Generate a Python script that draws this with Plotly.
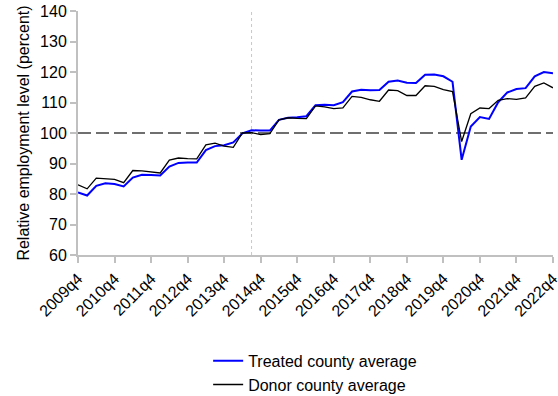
import plotly.graph_objects as go

# Quarterly periods, 2009q4 through 2022q4
quarters = [f"{y}q{q}" for y in range(2009, 2023) for q in range(1, 5)]
quarters = quarters[quarters.index("2009q4"):quarters.index("2022q4") + 1]

# Relative employment level (percent), indexed to 100 at treatment
treated = [80.5, 79.5, 82.7, 83.5, 83.3, 82.5, 85.4, 86.3, 86.2, 86.1,
           89.0, 90.2, 90.3, 90.3, 94.4, 95.7, 96.0, 96.9, 99.9, 100.9,
           100.8, 100.8, 104.3, 105.0, 105.2, 105.5, 109.1, 109.3, 109.1, 110.1,
           113.6, 114.2, 114.0, 114.1, 116.8, 117.2, 116.5, 116.4, 119.1, 119.2,
           118.6, 116.8, 91.2, 102.1, 105.2, 104.6, 110.1, 113.3, 114.4, 114.7,
           118.6, 120.0, 119.6]
donor = [83.0, 81.7, 85.2, 85.1, 84.8, 83.7, 87.7, 87.6, 87.2, 86.9,
         91.1, 91.8, 91.6, 91.5, 96.1, 96.7, 95.7, 95.3, 100.0, 100.1,
         99.5, 99.8, 104.3, 105.0, 104.8, 104.7, 108.9, 108.6, 108.0, 108.2,
         112.0, 111.7, 110.9, 110.4, 114.1, 113.9, 112.3, 112.3, 115.5, 115.3,
         114.2, 113.6, 97.2, 106.3, 108.2, 108.0, 110.7, 111.3, 111.0, 111.5,
         115.3, 116.4, 114.8]

tick_labels = [q for q in quarters if q.endswith("q4")]
treatment_quarter = "2014q3"

x = list(range(len(quarters)))
tick_pos = [quarters.index(t) for t in tick_labels]

fig = go.Figure()
fig.add_trace(go.Scatter(x=x, y=treated, mode="lines", name="Treated county average",
                         line=dict(color="#0000ff", width=2)))
fig.add_trace(go.Scatter(x=x, y=donor, mode="lines", name="Donor county average",
                         line=dict(color="#000000", width=1.3)))

# Reference level and treatment date
fig.add_shape(type="line", xref="paper", x0=0, x1=1, yref="y", y0=100, y1=100,
              line=dict(color="#404040", width=1.5, dash="13px,5px"), layer="below")
tq = quarters.index(treatment_quarter)
fig.add_shape(type="line", xref="x", x0=tq, x1=tq, yref="paper", y0=0, y1=1,
              line=dict(color="#c8c8c8", width=1, dash="dot"), layer="below")

axis_font = dict(family="Liberation Sans, Arial, sans-serif", size=16, color="#000")
fig.update_layout(
    width=558, height=396,
    margin=dict(l=78, r=5, t=11, b=141, autoexpand=False),
    plot_bgcolor="white", paper_bgcolor="white",
    font=axis_font,
    showlegend=True,
    legend=dict(x=0.274, y=-0.364, xanchor="left", yanchor="top",
                bgcolor="rgba(0,0,0,0)", font=axis_font),
    xaxis=dict(range=[0, len(quarters) - 1], tickmode="array", tickvals=tick_pos,
               ticktext=tick_labels, tickangle=-45, showgrid=False, zeroline=False,
               showline=True, linecolor="#c0c0c0", linewidth=2, automargin=False,
               tickfont=axis_font, ticklabeloverflow="allow",
               ticks="outside", ticklen=6, tickcolor="#c0c0c0", tickwidth=1.5),
    yaxis=dict(range=[60, 140], tickvals=[60, 70, 80, 90, 100, 110, 120, 130, 140],
               showgrid=False, zeroline=False, showline=True, linecolor="#c0c0c0",
               linewidth=2, automargin=False, tickfont=axis_font,
               ticks="outside", ticklen=6, tickcolor="#c0c0c0", tickwidth=1.5,
               title=dict(text="Relative employment level (percent)", standoff=6,
                          font=axis_font)),
)

fig.write_html("out.html")
